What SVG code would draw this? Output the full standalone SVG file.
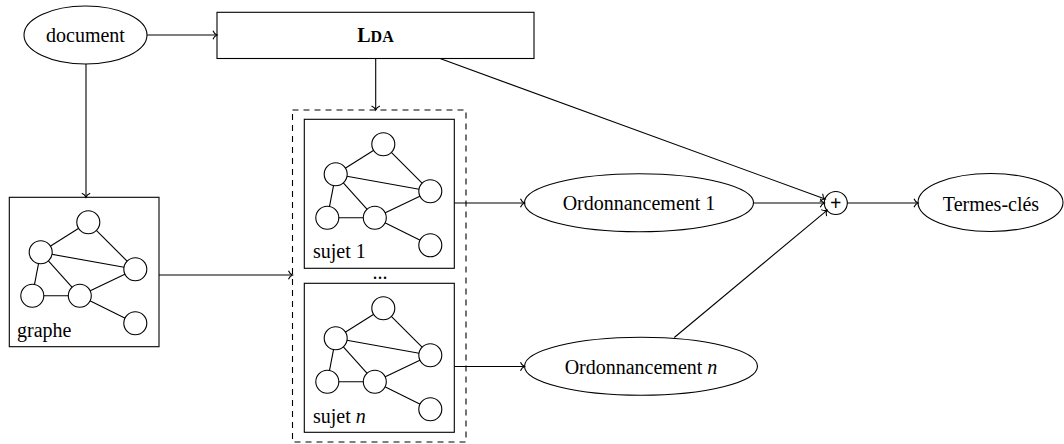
<svg xmlns="http://www.w3.org/2000/svg" xmlns:xlink="http://www.w3.org/1999/xlink" width="1064" height="444" viewBox="0 0 1064 444" font-family="'Liberation Serif', 'DejaVu Serif', serif">
<style>
.ln{fill:none;stroke:#000;stroke-width:1.1}
.sh{fill:#fff;stroke:#000;stroke-width:1.1}
text{font-family:'Liberation Serif','DejaVu Serif',serif;font-size:20px;fill:#000}
.c{text-anchor:middle}
.conn path{fill:none;stroke:#000;stroke-width:1.1;marker-end:url(#to)}
</style>
<defs>
<marker id="to" markerUnits="userSpaceOnUse" markerWidth="12" markerHeight="12" viewBox="-6 -6 12 12" refX="0" refY="0" orient="auto" overflow="visible">
<path d="M-4,-4.2 C-3,-1.6 -0.8,-0.3 0,0 C-0.8,0.3 -3,1.6 -4,4.2" fill="none" stroke="#000" stroke-width="1.1"/>
</marker>
<g id="gr">
<g class="ln">
<line x1="79" y1="25" x2="31.4" y2="55"/>
<line x1="79" y1="25" x2="126" y2="72"/>
<line x1="31.4" y1="55" x2="126" y2="72"/>
<line x1="31.4" y1="55" x2="23" y2="98.5"/>
<line x1="31.4" y1="55" x2="70.5" y2="98.5"/>
<line x1="23" y1="98.5" x2="70.5" y2="98.5"/>
<line x1="70.5" y1="98.5" x2="126" y2="72"/>
<line x1="70.5" y1="98.5" x2="126" y2="126"/>
</g>
<g class="sh">
<circle cx="79" cy="25" r="11.5"/>
<circle cx="31.4" cy="55" r="11.5"/>
<circle cx="126" cy="72" r="11.5"/>
<circle cx="23" cy="98.5" r="11.5"/>
<circle cx="70.5" cy="98.5" r="11.5"/>
<circle cx="126" cy="126" r="11.5"/>
</g>
</g>
</defs>
<rect width="1064" height="444" fill="#fff"/>

<g id="document">
<ellipse class="sh" cx="85.5" cy="35" rx="61.5" ry="29"/>
<text class="c" x="85.5" y="42">document</text>
</g>

<g id="lda">
<rect class="sh" x="217" y="12.3" width="317" height="46.2"/>
<text class="c" x="375.5" y="42" font-weight="bold">L<tspan font-size="16">DA</tspan></text>
</g>

<g id="graphe">
<rect class="sh" x="9.3" y="197.3" width="149.7" height="149.4"/>
<use xlink:href="#gr" x="9.3" y="197.3"/>
<text x="17" y="337">graphe</text>
</g>

<g id="sujets">
<rect x="292.5" y="110" width="173.5" height="332" fill="none" stroke="#000" stroke-width="1.1" stroke-dasharray="6 5"/>
<text class="c" x="380" y="279">...</text>
</g>

<g id="sujet1">
<rect class="sh" x="304.3" y="119.3" width="150" height="149"/>
<use xlink:href="#gr" x="304.3" y="119.3"/>
<text x="313" y="258.3">sujet 1</text>
</g>

<g id="sujetn">
<rect class="sh" x="304.3" y="283.3" width="150" height="149"/>
<use xlink:href="#gr" x="304.3" y="283.3"/>
<text x="313" y="423.3">sujet <tspan font-style="italic">n</tspan></text>
</g>

<g id="ord1">
<ellipse class="sh" cx="639" cy="202.7" rx="114.5" ry="29"/>
<text class="c" x="639" y="210">Ordonnancement 1</text>
</g>

<g id="ordn">
<ellipse class="sh" cx="641" cy="366.3" rx="116.5" ry="29"/>
<text class="c" x="641" y="374">Ordonnancement <tspan font-style="italic">n</tspan></text>
</g>

<g id="plus">
<circle class="sh" cx="835.8" cy="203" r="11.5"/>
<text class="c" x="835.8" y="209.5" font-weight="bold">+</text>
</g>

<g id="termes">
<ellipse class="sh" cx="990.5" cy="202.5" rx="72.5" ry="29"/>
<text class="c" x="991" y="210.5">Termes-clés</text>
</g>

<g id="connectors" class="conn">
<path d="M147,35 H217"/>
<path d="M375.7,58.5 V110"/>
<path d="M86,64 V197.3"/>
<path d="M159,275 H292.5"/>
<path d="M454.3,203 H524.5"/>
<path d="M454.3,366.5 H524.5"/>
<path d="M753.5,203 H824.3"/>
<path d="M440,58.5 L825,199"/>
<path d="M674.3,337.5 L827,210.3"/>
<path d="M847.3,203 H918"/>
</g>
</svg>
